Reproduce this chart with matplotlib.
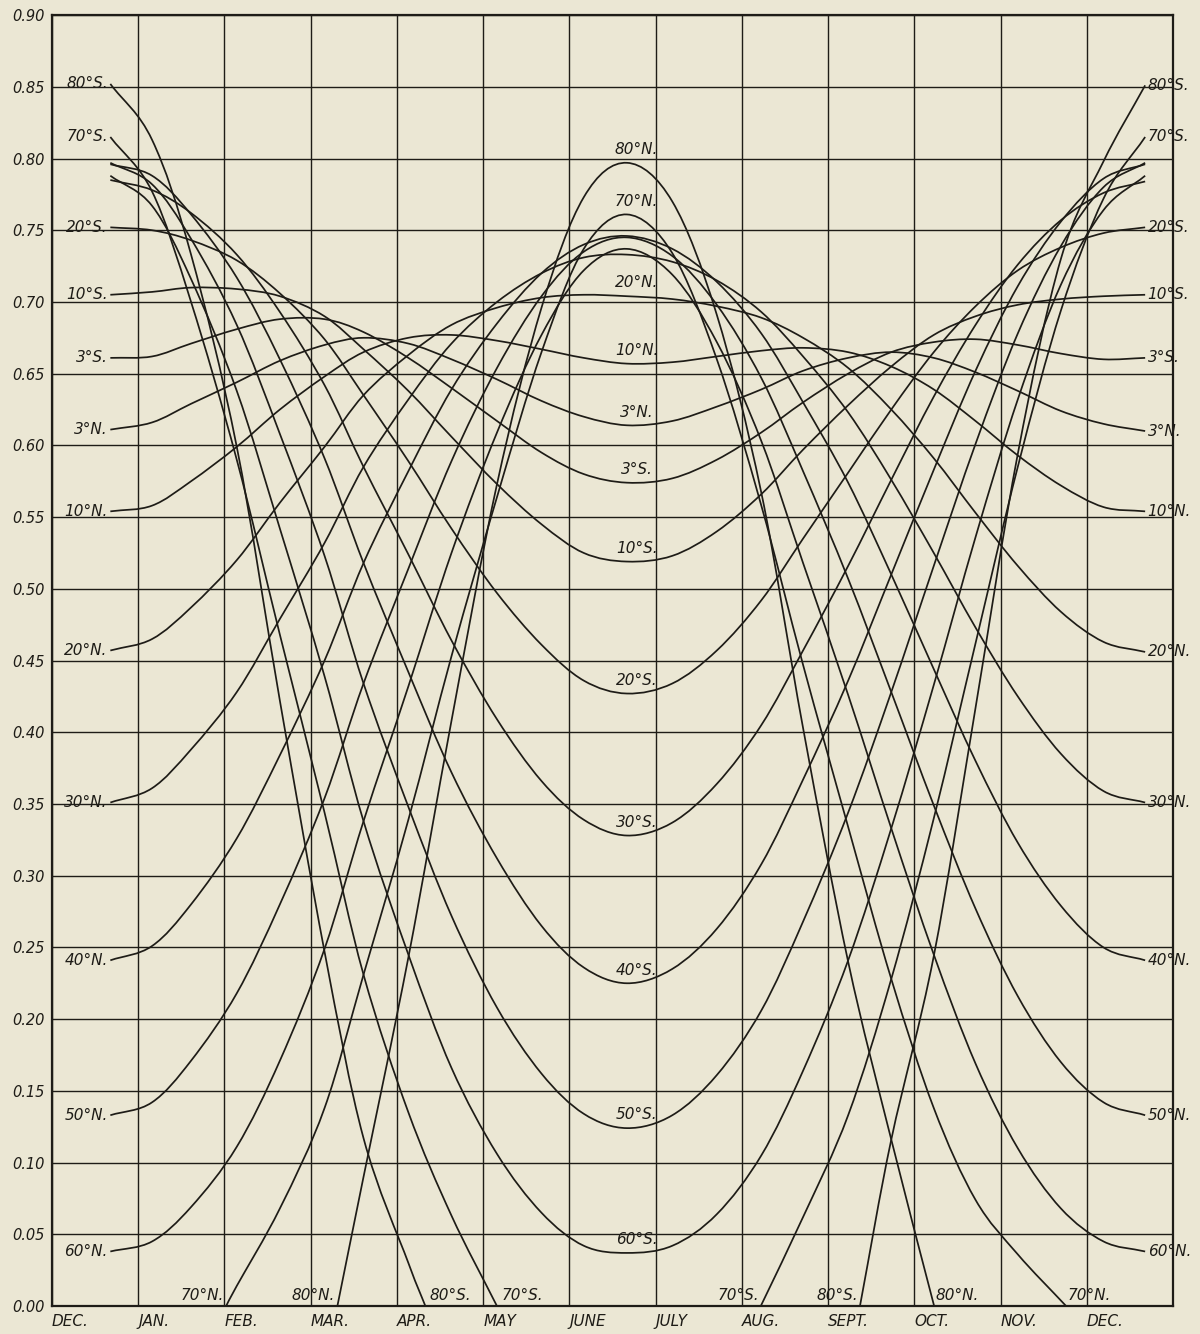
import matplotlib.pyplot as plt
from matplotlib.path import Path
from matplotlib.patches import PathPatch

# x position on the chart: 0 = 1 Dec, 1 = 1 Jan, ... 12 = 1 Dec, 13 = 31 Dec
x_dates = [0.677, 1.161, 1.613, 2.143, 2.643, 3.161, 3.613, 4.133, 4.633,
           5.161, 5.677, 6.167, 6.667, 7.194, 7.710, 8.226, 8.710, 9.233,
           9.733, 10.226, 10.710, 11.200, 11.700, 12.194, 12.677]

months = ["DEC.", "JAN.", "FEB.", "MAR.", "APR.", "MAY", "JUNE", "JULY",
          "AUG.", "SEPT.", "OCT.", "NOV.", "DEC."]
y_ticks = [0.00, 0.05, 0.10, 0.15, 0.20, 0.25, 0.30, 0.35, 0.40, 0.45,
           0.50, 0.55, 0.60, 0.65, 0.70, 0.75, 0.80, 0.85, 0.90]

_ = None
n80 = [_, _, _, _, _, _, 0.090, 0.243, 0.408, 0.573, 0.696, 0.773, 0.797,
       0.770, 0.691, 0.567, 0.403, 0.240, 0.116, _, _, _, _, _, _]
n70 = [_, _, _, 0.014, 0.068, 0.138, 0.231, 0.339, 0.453, 0.564, 0.665, 0.737,
       0.761, 0.734, 0.660, 0.558, 0.447, 0.334, 0.228, 0.138, 0.074, 0.036,
       _, _, _]
n60 = [0.038, 0.045, 0.069, 0.111, 0.171, 0.249, 0.338, 0.432, 0.525, 0.609,
       0.677, 0.722, 0.737, 0.719, 0.672, 0.603, 0.518, 0.426, 0.333, 0.245,
       0.169, 0.110, 0.068, 0.045, 0.038]
n50 = [0.133, 0.142, 0.171, 0.218, 0.280, 0.354, 0.434, 0.514, 0.589, 0.654,
       0.704, 0.735, 0.745, 0.732, 0.698, 0.647, 0.582, 0.507, 0.428, 0.349,
       0.277, 0.216, 0.170, 0.142, 0.133]
n40 = [0.241, 0.251, 0.280, 0.326, 0.384, 0.450, 0.518, 0.582, 0.639, 0.685,
       0.720, 0.740, 0.746, 0.737, 0.714, 0.678, 0.630, 0.574, 0.510, 0.444,
       0.380, 0.323, 0.279, 0.250, 0.241]
n30 = [0.351, 0.361, 0.388, 0.428, 0.479, 0.532, 0.585, 0.632, 0.671, 0.700,
       0.720, 0.731, 0.733, 0.728, 0.715, 0.693, 0.662, 0.623, 0.576, 0.525,
       0.473, 0.425, 0.385, 0.359, 0.351]
n20 = [0.457, 0.465, 0.487, 0.520, 0.560, 0.599, 0.635, 0.663, 0.684, 0.696,
       0.703, 0.705, 0.704, 0.702, 0.697, 0.689, 0.675, 0.654, 0.625, 0.591,
       0.553, 0.516, 0.484, 0.463, 0.456]
n10 = [0.554, 0.558, 0.575, 0.599, 0.625, 0.648, 0.665, 0.675, 0.677, 0.673,
       0.667, 0.661, 0.657, 0.658, 0.662, 0.666, 0.668, 0.665, 0.655, 0.639,
       0.617, 0.593, 0.572, 0.557, 0.554]
n3 = [0.611, 0.616, 0.629, 0.644, 0.659, 0.670, 0.675, 0.671, 0.660, 0.646,
      0.631, 0.620, 0.614, 0.617, 0.627, 0.639, 0.652, 0.661, 0.665, 0.661,
      0.651, 0.638, 0.624, 0.615, 0.610]
s3 = [0.661, 0.662, 0.671, 0.681, 0.688, 0.688, 0.679, 0.661, 0.640, 0.617,
      0.595, 0.580, 0.574, 0.577, 0.590, 0.609, 0.630, 0.650, 0.665, 0.672,
      0.674, 0.670, 0.664, 0.660, 0.661]
s10 = [0.705, 0.707, 0.710, 0.709, 0.704, 0.690, 0.667, 0.638, 0.606, 0.573,
       0.545, 0.525, 0.519, 0.523, 0.540, 0.566, 0.597, 0.628, 0.655, 0.677,
       0.690, 0.698, 0.702, 0.704, 0.705]
s20 = [0.752, 0.750, 0.743, 0.729, 0.706, 0.674, 0.635, 0.589, 0.542, 0.497,
       0.461, 0.436, 0.427, 0.434, 0.457, 0.492, 0.535, 0.581, 0.625, 0.665,
       0.697, 0.722, 0.738, 0.748, 0.752]
s30 = [0.785, 0.778, 0.762, 0.733, 0.693, 0.642, 0.585, 0.524, 0.464, 0.409,
       0.366, 0.339, 0.328, 0.337, 0.364, 0.405, 0.457, 0.516, 0.576, 0.634,
       0.684, 0.726, 0.757, 0.776, 0.784]
s40 = [0.796, 0.788, 0.761, 0.717, 0.660, 0.591, 0.518, 0.442, 0.372, 0.312,
       0.265, 0.236, 0.225, 0.235, 0.263, 0.308, 0.367, 0.436, 0.510, 0.583,
       0.652, 0.711, 0.756, 0.786, 0.796]
s50 = [0.797, 0.782, 0.744, 0.684, 0.608, 0.523, 0.434, 0.348, 0.272, 0.208,
       0.162, 0.134, 0.124, 0.133, 0.161, 0.206, 0.268, 0.344, 0.428, 0.516,
       0.601, 0.678, 0.739, 0.780, 0.797]
s60 = [0.788, 0.767, 0.716, 0.638, 0.542, 0.439, 0.338, 0.245, 0.166, 0.106,
       0.065, 0.042, 0.037, 0.042, 0.064, 0.105, 0.164, 0.241, 0.333, 0.433,
       0.536, 0.632, 0.712, 0.764, 0.788]
s70 = [0.815, 0.777, 0.700, 0.590, 0.468, 0.344, 0.231, 0.135, 0.063, _, _, _,
       _, _, _, _, 0.062, 0.133, 0.228, 0.340, 0.462, 0.585, 0.694, 0.772,
       0.815]
s80 = [0.852, 0.813, 0.733, 0.599, 0.422, 0.247, 0.117, 0.030, _, _, _, _, _,
       _, _, _, _, _, 0.116, 0.244, 0.417, 0.594, 0.730, 0.798, 0.851]

# where the polar curves meet the zero line (in order along the year)
zero_x = {"n80": [3.31, 10.23], "n70": [2.02, 11.76],
          "s80": [4.33, 9.37], "s70": [5.16, 8.22]}

curves = [("n80", "80°N.", n80), ("n70", "70°N.", n70), ("n60", "60°N.", n60),
          ("n50", "50°N.", n50), ("n40", "40°N.", n40), ("n30", "30°N.", n30),
          ("n20", "20°N.", n20), ("n10", "10°N.", n10), ("n3", "3°N.", n3),
          ("s3", "3°S.", s3), ("s10", "10°S.", s10), ("s20", "20°S.", s20),
          ("s30", "30°S.", s30), ("s40", "40°S.", s40), ("s50", "50°S.", s50),
          ("s60", "60°S.", s60), ("s70", "70°S.", s70), ("s80", "80°S.", s80)]

side_labels = ["n60", "n50", "n40", "n30", "n20", "n10", "n3",
               "s3", "s10", "s20", "s70", "s80"]
mid_labels = ["n80", "n70", "n20", "n10", "n3", "s3", "s10", "s20",
              "s30", "s40", "s50", "s60"]

bg = "#ebe7d4"
ink = "#1e1c17"
font = dict(family="DejaVu Sans", style="italic", color=ink)


def smooth_path(xs, ys):
    # drawn as a curve through the points (Catmull-Rom as cubic Beziers),
    # ends continue straight like the hand-drawn original
    pts = list(zip(xs, ys))
    n = len(pts)
    verts = [pts[0]]
    codes = [Path.MOVETO]
    for i in range(n - 1):
        p1, p2 = pts[i], pts[i + 1]
        if i > 0:
            p0 = pts[i - 1]
        else:
            p0 = (2 * p1[0] - p2[0], 2 * p1[1] - p2[1])
        if i + 2 < n:
            p3 = pts[i + 2]
        else:
            p3 = (2 * p2[0] - p1[0], 2 * p2[1] - p1[1])
        c1 = (p1[0] + (p2[0] - p0[0]) / 6, p1[1] + (p2[1] - p0[1]) / 6)
        c2 = (p2[0] - (p3[0] - p1[0]) / 6, p2[1] - (p3[1] - p1[1]) / 6)
        verts += [c1, c2, p2]
        codes += [Path.CURVE4] * 3
    return Path(verts, codes)


def draw(xs, ys):
    ax.add_patch(PathPatch(smooth_path(xs, ys), fill=False, edgecolor=ink,
                           lw=1.25, zorder=3))


fig = plt.figure(figsize=(12, 13.34), dpi=100, facecolor=bg)
ax = fig.add_axes([0.0433, 0.021, 0.9342, 0.9677], facecolor=bg)
ax.set_xlim(0, 13)
ax.set_ylim(0, 0.90)

for k in range(14):
    ax.axvline(k, color=ink, lw=1.0, zorder=1)
for v in y_ticks:
    ax.axhline(v, color=ink, lw=1.0, zorder=1)
for s in ax.spines.values():
    s.set_color(ink)
    s.set_linewidth(1.6)

ax.set_xticks(range(13))
ax.set_xticklabels(months, ha="left", fontsize=11, **font)
ax.set_yticks(y_ticks)
ax.set_yticklabels(["%.2f" % v for v in y_ticks], fontsize=10.5, **font)
ax.tick_params(length=0, pad=5)
ax.tick_params(axis="x", pad=6)

for key, name, vals in curves:
    zx = list(zero_x.get(key, []))
    seg_x, seg_y = [], []
    gap = False
    for xv, yv in zip(x_dates, vals):
        if yv is None:
            if seg_x:
                seg_x.append(zx.pop(0))
                seg_y.append(0.0)
                draw(seg_x, seg_y)
                seg_x, seg_y = [], []
            gap = True
            continue
        if gap and not seg_x:
            seg_x.append(zx.pop(0))
            seg_y.append(0.0)
        seg_x.append(xv)
        seg_y.append(yv)
    if seg_x:
        draw(seg_x, seg_y)

    if key in side_labels:
        ax.text(x_dates[0] - 0.03, vals[0], name, ha="right", va="center",
                fontsize=11, zorder=4, **font)
        ax.text(x_dates[-1] + 0.03, vals[-1], name, ha="left", va="center",
                fontsize=11, zorder=4, clip_on=False, **font)
    if key in mid_labels:
        ax.text(6.78, vals[12] + 0.004, name, ha="center", va="bottom",
                fontsize=11, zorder=4, **font)
    if key in zero_x:
        first, second = zero_x[key]
        if key.startswith("n"):
            ax.text(first - 0.03, 0.002, name, ha="right", va="bottom",
                    fontsize=11, zorder=4, **font)
            ax.text(second + 0.02, 0.002, name, ha="left", va="bottom",
                    fontsize=11, zorder=4, **font)
        else:
            ax.text(first + 0.05, 0.002, name, ha="left", va="bottom",
                    fontsize=11, zorder=4, **font)
            ax.text(second - 0.02, 0.002, name, ha="right", va="bottom",
                    fontsize=11, zorder=4, **font)

fig.savefig("out.png", dpi=100, facecolor=bg)
